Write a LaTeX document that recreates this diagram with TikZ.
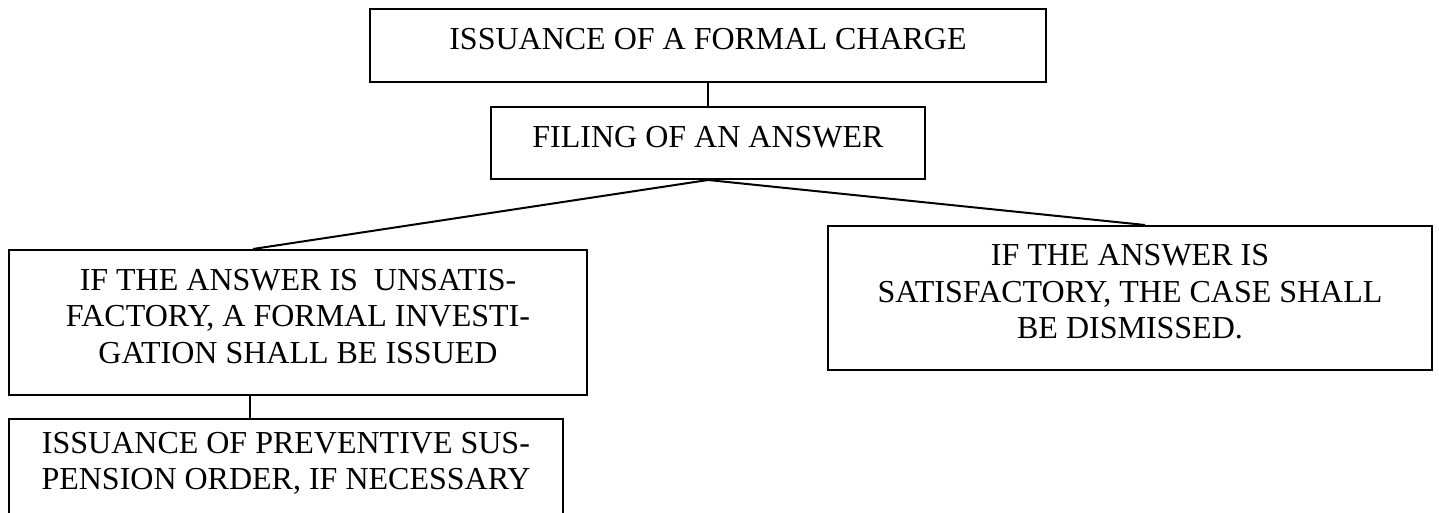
\documentclass[tikz,border=0pt]{standalone}
\usepackage{fontspec}
\setmainfont{Liberation Serif}

\begin{document}
\begin{tikzpicture}[x=.5pt,y=-.5pt,
	stage/.style={draw,line width=1pt,inner sep=0pt},
	stagetext/.style={align=center,inner sep=0pt,font=\fontsize{16}{18.25}\selectfont}]
	\useasboundingbox (0,0) rectangle (1439,513);
	
	\node[stage,minimum width=338pt,minimum height=36.5pt] (charge) at (708,45.5) {};
	\node[stagetext] (chargetext) at ([yshift=3pt]charge.center) {ISSUANCE OF A FORMAL CHARGE};
	
	\node[stage,minimum width=217pt,minimum height=36pt] (answer) at (708,143) {};
	\node[stagetext] (answertext) at ([yshift=3pt]answer.center) {FILING OF AN ANSWER};
	\draw[line width=1pt] (charge.south) -- (answer.north);
	
	\node[stage,minimum width=289pt,minimum height=72.5pt] (unsat) at (298,322.5) {};
	\node[stagetext] (unsattext) at ([yshift=3pt]unsat.center) {IF THE ANSWER IS~ UNSATIS-\\FACTORY, A FORMAL INVESTI-\\GATION SHALL BE ISSUED};
	
	\node[stage,minimum width=302pt,minimum height=72pt] (sat) at (1130,298) {};
	\node[stagetext] (sattext) at ([yshift=3pt]sat.center) {IF THE ANSWER IS\\SATISFACTORY, THE CASE SHALL\\BE DISMISSED.};
	
	\draw[line width=1pt] ([xshift=-22.5pt]unsat.north) -- (answer.south) -- ([xshift=7.5pt]sat.north);
	
	\node[stage,minimum width=277pt,minimum height=48.5pt] (suspend) at (286,467.5) {};
	\node[stagetext] (suspendtext) at ([yshift=2pt]suspend.center) {ISSUANCE OF PREVENTIVE SUS-\\PENSION ORDER, IF NECESSARY};
	\draw[line width=1pt] ([xshift=-24pt]unsat.south) -- ([xshift=-18pt]suspend.north);
\end{tikzpicture}
\end{document}
